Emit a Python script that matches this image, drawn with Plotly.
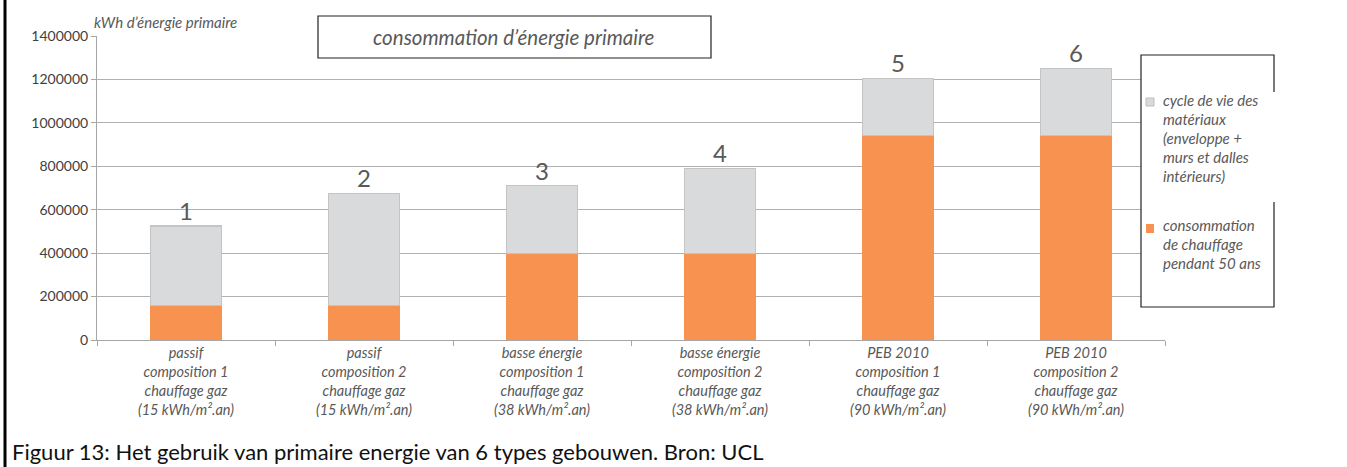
import plotly.graph_objects as go

# ------------------------------------------------------------
# data
# ------------------------------------------------------------
categories = [
    "passif<br>composition 1<br>chauffage gaz<br>(15 kWh/m².an)",
    "passif<br>composition 2<br>chauffage gaz<br>(15 kWh/m².an)",
    "basse énergie<br>composition 1<br>chauffage gaz<br>(38 kWh/m².an)",
    "basse énergie<br>composition 2<br>chauffage gaz<br>(38 kWh/m².an)",
    "PEB 2010<br>composition 1<br>chauffage gaz<br>(90 kWh/m².an)",
    "PEB 2010<br>composition 2<br>chauffage gaz<br>(90 kWh/m².an)",
]
chauffage = [160000, 160000, 400000, 400000, 940000, 940000]
cycle_vie = [365000, 515000, 310000, 390000, 265000, 312000]
bar_numbers = ["1", "2", "3", "4", "5", "6"]

legend_cycle = ["cycle de vie des", "matériaux", "(enveloppe +", "murs et dalles", "intérieurs)"]
legend_chauffage = ["consommation", "de chauffage", "pendant 50 ans"]

GREY = "#D9DADB"
ORANGE = "#F79250"
TXT = "#595959"
FONT = "Lato"

# plot area in pixels (used only to place the decorations)
L, R, T, B = 97, 1165, 36, 340
def px(x):
    return (x - L) / (R - L)
def py(y):
    return (B - y) / (B - T)

totals = [a + b for a, b in zip(chauffage, cycle_vie)]

fig = go.Figure()
fig.add_trace(go.Bar(
    x=categories, y=chauffage, name="chauffage",
    marker=dict(color=ORANGE, line=dict(width=0)),
))
fig.add_trace(go.Bar(
    x=categories, y=cycle_vie, name="cycle",
    marker=dict(color=GREY, line=dict(color="#C4C4C4", width=1.2)),
))
# numbers above the stacks
fig.add_trace(go.Scatter(
    x=categories, y=totals, text=bar_numbers, mode="text",
    textposition="top center",
    textfont=dict(family=FONT, size=24, color=TXT),
    cliponaxis=False,
))

fig.update_layout(
    width=1347, height=467,
    margin=dict(l=L, r=1347 - R, t=T, b=467 - B),
    barmode="stack", bargap=0.6,
    showlegend=False,
    plot_bgcolor="white", paper_bgcolor="white",
    font=dict(family=FONT, color=TXT),
)
fig.update_yaxes(
    range=[0, 1400000], dtick=200000, tickformat="d",
    showgrid=True, gridcolor="#B0B0B0", gridwidth=1,
    showline=True, linecolor="#A6A6A6", linewidth=1,
    ticks="outside", ticklen=5, tickcolor="#A6A6A6",
    tickfont=dict(family=FONT, size=14, color="#404040"),
    zeroline=False,
)
fig.update_xaxes(
    showline=True, linecolor="#A6A6A6", linewidth=1,
    ticks="outside", ticklen=5, tickcolor="#A6A6A6", tickson="boundaries",
    tickfont=dict(family=FONT, size=14.5, color=TXT, style="italic"),
    showgrid=False,
)

shapes = []
annotations = []

# axis title at the top left
annotations.append(dict(
    text="<i>kWh d’énergie primaire</i>", x=px(92), y=py(22),
    xref="paper", yref="paper", xanchor="left", yanchor="middle",
    showarrow=False, font=dict(family=FONT, size=15, color=TXT),
))

# boxed title
shapes.append(dict(type="rect", xref="paper", yref="paper",
                   x0=px(318), x1=px(711), y0=py(58), y1=py(16),
                   line=dict(color="#222222", width=1.2), fillcolor="white", layer="above"))
annotations.append(dict(
    text="<i>consommation d’énergie primaire</i>", x=px(514), y=py(37),
    xref="paper", yref="paper", xanchor="center", yanchor="middle",
    showarrow=False, font=dict(family=FONT, size=20.5, color=TXT),
))

# legend box (right border has a gap, as in the source)
shapes.append(dict(type="rect", xref="paper", yref="paper",
                   x0=px(1141), x1=px(1274), y0=py(307), y1=py(55),
                   line=dict(color="#222222", width=1.2), fillcolor="white", layer="above"))
shapes.append(dict(type="line", xref="paper", yref="paper",
                   x0=px(1274), x1=px(1274), y0=py(202), y1=py(92),
                   line=dict(color="white", width=3), layer="above"))
shapes.append(dict(type="rect", xref="paper", yref="paper",
                   x0=px(1146), x1=px(1154), y0=py(106), y1=py(98),
                   line=dict(color="#BDBDBD", width=1), fillcolor=GREY, layer="above"))
shapes.append(dict(type="rect", xref="paper", yref="paper",
                   x0=px(1146), x1=px(1154), y0=py(233), y1=py(224),
                   line=dict(width=0), fillcolor=ORANGE, layer="above"))
for i, line in enumerate(legend_cycle):
    annotations.append(dict(
        text="<i>" + line + "</i>", x=px(1161), y=py(100 + i * 19),
        xref="paper", yref="paper", xanchor="left", yanchor="middle",
        showarrow=False, font=dict(family=FONT, size=15, color=TXT),
    ))
for i, line in enumerate(legend_chauffage):
    annotations.append(dict(
        text="<i>" + line + "</i>", x=px(1161), y=py(225 + i * 19),
        xref="paper", yref="paper", xanchor="left", yanchor="middle",
        showarrow=False, font=dict(family=FONT, size=15, color=TXT),
    ))

# caption under the chart
annotations.append(dict(
    text="Figuur 13: Het gebruik van primaire energie van 6 types gebouwen. Bron: UCL",
    x=px(10), y=py(451), xref="paper", yref="paper",
    xanchor="left", yanchor="middle", showarrow=False,
    font=dict(family=FONT, size=22, color="#111111"),
))

# black frame line on the left edge
shapes.append(dict(type="line", xref="paper", yref="paper",
                   x0=px(5), x1=px(5), y0=py(467), y1=py(0),
                   line=dict(color="black", width=3)))

fig.update_layout(shapes=shapes, annotations=annotations)

# page has a default 8px body margin; remove it so the figure sits at 0,0
fig.write_html("out.html", config={"displayModeBar": False},
               post_script="document.body.style.margin='0';")
